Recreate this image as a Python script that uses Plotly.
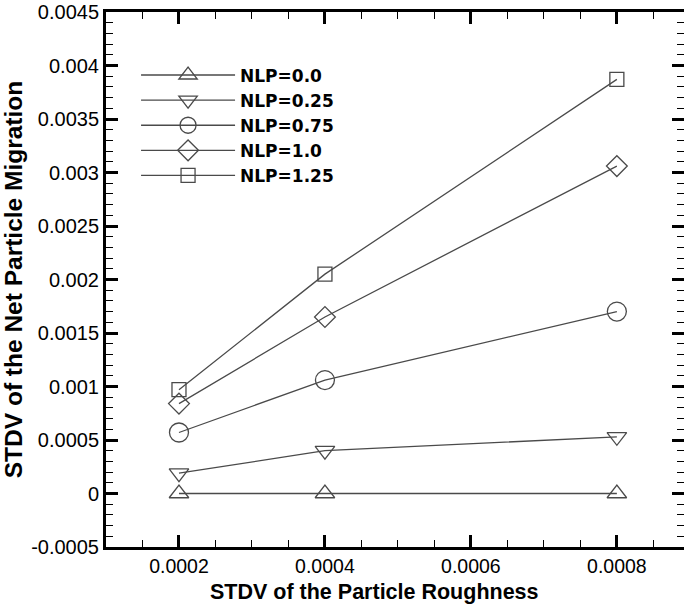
import plotly.graph_objects as go

x_vals = [0.0002, 0.0004, 0.0008]
series_names = ["NLP=0.0", "NLP=0.25", "NLP=0.75", "NLP=1.0", "NLP=1.25"]
nlp_00 = [0.0, 0.0, 0.0]
nlp_025 = [0.00019, 0.00040, 0.00053]
nlp_075 = [0.00057, 0.00106, 0.00170]
nlp_100 = [0.00084, 0.00165, 0.00306]
nlp_125 = [0.00097, 0.00205, 0.00387]
series_values = [nlp_00, nlp_025, nlp_075, nlp_100, nlp_125]
symbols = ["triangle-up-open", "triangle-down-open", "circle-open", "diamond-open", "square-open"]
sizes = [17, 17, 19, 16, 14]

y_ticks = [-0.0005, 0, 0.0005, 0.001, 0.0015, 0.002, 0.0025, 0.003, 0.0035, 0.004, 0.0045]
y_ticklabels = ["-0.0005", "0", "0.0005", "0.001", "0.0015", "0.002", "0.0025", "0.003", "0.0035", "0.004", "0.0045"]
x_ticks = [0.0002, 0.0004, 0.0006, 0.0008]
x_ticklabels = ["0.0002", "0.0004", "0.0006", "0.0008"]

FONT = "Liberation Sans, Arial, Helvetica, sans-serif"
LEGFONT = "DejaVu Sans, Liberation Sans, sans-serif"
LINE = "#4a4a4a"

fig = go.Figure()
for name, vals, sym, sz in zip(series_names, series_values, symbols, sizes):
    fig.add_trace(go.Scatter(
        x=x_vals, y=vals, name=name, mode="lines+markers",
        line=dict(color=LINE, width=1.3),
        marker=dict(symbol=sym, size=sz, color=LINE, line=dict(width=1.3, color=LINE)),
    ))

XR = [0.0001, 0.000892]
YR = [-0.0005, 0.0045]

common = dict(ticks="inside", showgrid=False, zeroline=False, tickcolor="black")

fig.update_layout(
    width=685, height=606,
    margin=dict(l=106, r=1, t=12, b=59),
    paper_bgcolor="white", plot_bgcolor="white",
    font=dict(family=FONT, color="black", size=16),
    showlegend=True,
    legend=dict(
        x=0.052, y=0.915, xanchor="left", yanchor="top",
        font=dict(family=LEGFONT, size=17, color="black", weight="bold"),
        bgcolor="rgba(0,0,0,0)", tracegroupgap=0, itemwidth=94,
    ),
    xaxis=dict(
        range=XR, tickvals=x_ticks, ticktext=x_ticklabels,
        ticklen=12, tickwidth=3, showline=True, linewidth=3, linecolor="black",
        minor=dict(dtick=0.00005, tick0=0, ticklen=7, tickwidth=1, ticks="inside", tickcolor="black"),
        tickfont=dict(size=19.5),
        **common,
    ),
    yaxis=dict(
        range=YR, tickvals=y_ticks, ticktext=y_ticklabels,
        ticklen=12, tickwidth=3, showline=True, linewidth=3, linecolor="black",
        minor=dict(dtick=0.0001, tick0=0, ticklen=7, tickwidth=1, ticks="inside", tickcolor="black"),
        title=dict(text="<b>STDV of the Net Particle Migration</b>", font=dict(size=24.5), standoff=2),
        tickfont=dict(size=20),
        **common,
    ),
    xaxis2=dict(
        range=XR, overlaying="x", side="top", tickvals=x_ticks, showticklabels=False,
        ticklen=12, tickwidth=3, showline=True, linewidth=3, linecolor="black",
        minor=dict(dtick=0.00005, tick0=0, ticklen=7, tickwidth=1, ticks="inside", tickcolor="black"),
        **common,
    ),
    yaxis2=dict(
        range=YR, overlaying="y", side="right", tickvals=y_ticks, showticklabels=False,
        ticklen=12, tickwidth=3, showline=False,
        minor=dict(dtick=0.0001, tick0=0, ticklen=7, tickwidth=1, ticks="inside", tickcolor="black"),
        **common,
    ),
    annotations=[dict(
        text="<b>STDV of the Particle Roughness</b>", xref="paper", yref="paper",
        x=0.465, y=-0.084, xanchor="center", yanchor="middle", showarrow=False,
        font=dict(size=21.5, family=FONT, color="black"),
    )],
)
# invisible trace to activate the mirrored axes
fig.add_trace(go.Scatter(x=[x_vals[0]], y=[nlp_00[0]], xaxis="x2", yaxis="y2",
                         mode="markers", marker=dict(opacity=0), showlegend=False, hoverinfo="skip"))

fig.write_html("out.html")
